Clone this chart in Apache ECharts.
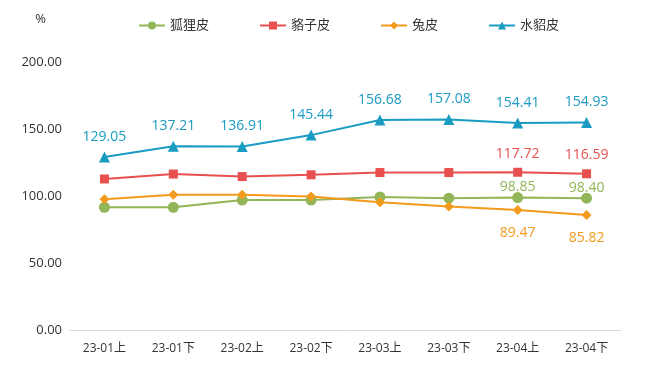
<!DOCTYPE html>
<html><head><meta charset="utf-8">
<script src="https://cdn.jsdelivr.net/npm/echarts@6/dist/echarts.min.js"></script>
<style>html,body{margin:0;padding:0;background:#fff}#c{width:648px;height:374px}</style>
</head><body><div id="c"></div>
<script>
const categories = ['23-01上','23-01下','23-02上','23-02下','23-03上','23-03下','23-04上','23-04下'];
const fox = [91.6, 91.6, 97.0, 97.0, 99.3, 98.4, 98.85, 98.40];
const raccoon = [112.7, 116.4, 114.5, 115.8, 117.5, 117.5, 117.72, 116.59];
const rabbit = [97.5, 101.0, 101.0, 99.6, 95.4, 92.1, 89.47, 85.82];
const mink = [129.05, 137.21, 136.91, 145.44, 156.68, 157.08, 154.41, 154.93];
const yTicks = [0, 50, 100, 150, 200];

const font = "'Open Sans','Noto Sans CJK SC',sans-serif";
function mk(name, data, color, symbol, size, labelIdx, pos, dist) {
  return {
    name, type: 'line', data: data.map((v, i) => ({
      value: v,
      label: { show: labelIdx.includes(i) }
    })),
    symbol, symbolSize: size,
    lineStyle: { color, width: 2 },
    itemStyle: { color },
    label: { position: pos, distance: dist, color, fontSize: 14, fontFamily: font,
      formatter: p => p.value.toFixed(2) },
    z: 2
  };
}
const chart = echarts.init(document.getElementById('c'));
chart.setOption({
  animation: false,
  textStyle: { fontFamily: font },
  legend: {
    top: 14, left: 133, itemGap: 50, itemWidth: 26, itemHeight: 10,
    textStyle: { fontSize: 13, color: '#333', fontFamily: font },
    data: ['狐狸皮','貉子皮','兔皮','水貂皮']
  },
  grid: { left: 70, right: 27, top: 62, bottom: 44 },
  xAxis: {
    type: 'category', data: categories,
    axisLine: { lineStyle: { color: '#d9d9d9' } },
    axisTick: { show: false },
    axisLabel: { color: '#333', fontSize: 12, margin: 13, fontFamily: font }
  },
  yAxis: {
    type: 'value', min: yTicks[0], max: yTicks[yTicks.length - 1], interval: 50,
    name: '%', nameLocation: 'end', nameGap: 36,
    nameTextStyle: { color: '#333', fontSize: 13, align: 'right', padding: [0, 24, 0, 0] },
    axisLine: { show: false }, axisTick: { show: false },
    splitLine: { show: false },
    axisLabel: { color: '#333', fontSize: 13, margin: 8, formatter: v => v.toFixed(2) }
  },
  series: [
    mk('狐狸皮', fox, '#92b558', 'circle', 11, [6, 7], 'top', -2),
    mk('貉子皮', raccoon, '#e8504f', 'rect', 9, [6, 7], 'top', 7),
    mk('兔皮', rabbit, '#f39a1c', 'diamond', 10, [6, 7], 'bottom', 11),
    mk('水貂皮', mink, '#1a9bc2', 'triangle', 11, [0,1,2,3,4,5,6,7], 'top', 8)
  ]
});
</script></body></html>
